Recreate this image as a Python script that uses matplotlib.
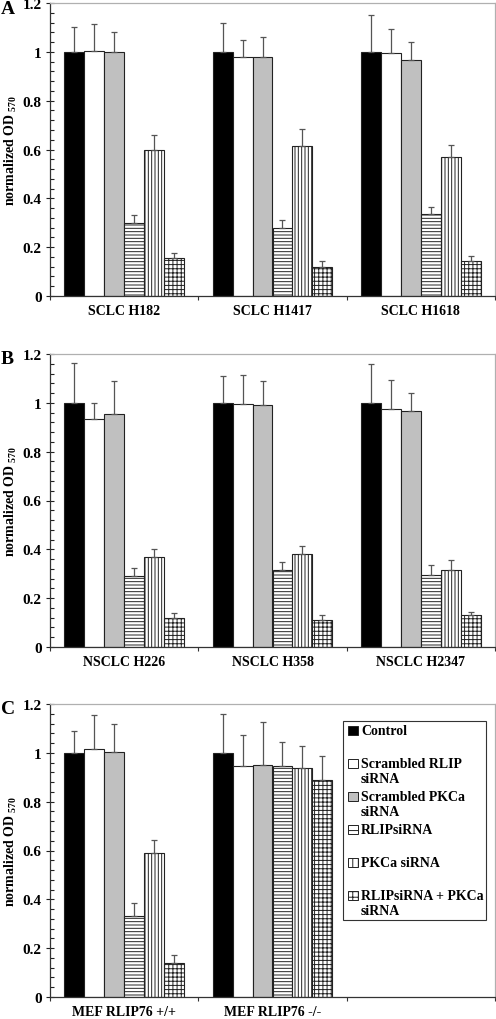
import numpy as np
import matplotlib
matplotlib.use("Agg")
import matplotlib.pyplot as plt
from matplotlib.patches import Rectangle
from matplotlib.ticker import MultipleLocator, FixedLocator

plt.rcParams['font.family'] = ['Liberation Serif', 'DejaVu Serif']
plt.rcParams['font.weight'] = 'bold'
plt.rcParams['mathtext.fontset'] = 'custom'
plt.rcParams['mathtext.rm'] = 'Liberation Serif'
plt.rcParams['mathtext.bf'] = 'Liberation Serif:bold'
plt.rcParams['hatch.linewidth'] = 0.7

series = ['Control', 'Scrambled RLIP\nsiRNA', 'Scrambled PKCa\nsiRNA',
          'RLIPsiRNA', 'PKCa siRNA', 'RLIPsiRNA + PKCa\nsiRNA']
fills = ['black', 'white', '#c0c0c0', 'white', 'white', 'white']
hatches = [None, None, None, '-----', '|||||', '++++']

# panel A
cats_a = ['SCLC H182', 'SCLC H1417', 'SCLC H1618']
vals_a = [[1.0, 1.005, 1.0, 0.30, 0.60, 0.155],
          [1.0, 0.98, 0.98, 0.28, 0.615, 0.12],
          [1.0, 0.995, 0.965, 0.335, 0.57, 0.145]]
tops_a = [[1.10, 1.115, 1.08, 0.33, 0.66, 0.178],
          [1.12, 1.05, 1.06, 0.31, 0.685, 0.145],
          [1.15, 1.095, 1.04, 0.365, 0.62, 0.165]]

# panel B
cats_b = ['NSCLC H226', 'NSCLC H358', 'NSCLC H2347']
vals_b = [[1.0, 0.935, 0.955, 0.29, 0.37, 0.12],
          [1.0, 0.995, 0.99, 0.315, 0.38, 0.11],
          [1.0, 0.975, 0.965, 0.295, 0.315, 0.13]]
tops_b = [[1.165, 1.0, 1.09, 0.325, 0.40, 0.14],
          [1.11, 1.115, 1.09, 0.35, 0.415, 0.13],
          [1.16, 1.095, 1.04, 0.335, 0.355, 0.145]]

# panel C (third slot empty, holds the legend)
cats_c = ['MEF RLIP76 +/+', 'MEF RLIP76 -/-', '']
vals_c = [[1.0, 1.015, 1.005, 0.33, 0.59, 0.14],
          [1.0, 0.945, 0.952, 0.948, 0.936, 0.887]]
tops_c = [[1.09, 1.155, 1.12, 0.385, 0.645, 0.17],
          [1.16, 1.071, 1.128, 1.044, 1.03, 0.989]]

fig = plt.figure(figsize=(4.96, 10.2), dpi=100)
W, H = 496, 1020
edge = '#222222'
width = 0.1347


def panel(top_px, cats, vals, tops, letter, legend=False):
    ax = fig.add_axes([50 / W, 1 - (top_px + 293) / H, 445 / W, 293 / H])
    x = np.arange(len(cats))
    vals = np.array(vals)
    tops = np.array(tops)
    n = vals.shape[0]
    for i in range(len(series)):
        xs = np.arange(n) + (i - 2.5) * width
        ax.bar(xs, vals[:, i], width, color=fills[i], edgecolor=edge,
               linewidth=0.8, hatch=hatches[i], zorder=2)
        err = tops[:, i] - vals[:, i]
        ax.errorbar(xs, vals[:, i], yerr=[np.zeros(n), err], fmt='none',
                    ecolor='#555555', elinewidth=0.9, capsize=2.5,
                    capthick=0.9, zorder=3)
    ax.set_xlim(-0.5, len(cats) - 0.5)
    ax.set_ylim(0, 1.2)
    ax.yaxis.set_minor_locator(MultipleLocator(0.04))
    ax.set_yticks([0, 0.2, 0.4, 0.6, 0.8, 1.0, 1.2])
    ax.set_yticklabels(['0', '0.2', '0.4', '0.6', '0.8', '1', '1.2'],
                       fontsize=11, fontweight='bold')
    ax.set_xticks(x)
    ax.set_xticklabels(cats, fontsize=10, fontweight='bold')
    ax.xaxis.set_minor_locator(FixedLocator(np.arange(len(cats) + 1) - 0.5))
    ax.tick_params(axis='x', which='major', length=0, pad=6)
    ax.tick_params(axis='x', which='minor', direction='out', length=3,
                   color='#333333', width=0.8)
    ax.tick_params(axis='y', which='major', direction='inout', length=6,
                   color='#222222', width=0.8, pad=3)
    ax.tick_params(axis='y', which='minor', direction='in', length=3,
                   color='#222222', width=0.8)
    for s in ['left', 'bottom']:
        ax.spines[s].set_color('#333333')
        ax.spines[s].set_linewidth(0.9)
    for s in ['top', 'right']:
        ax.spines[s].set_color('#b0b0b0')
        ax.spines[s].set_linewidth(0.9)
    ax.set_ylabel(r'normalized OD $_{570}$', fontsize=10, fontweight='bold')
    ax.yaxis.set_label_coords(-31 / 445, 0.5)
    fig.text(1 / W, 1 - (top_px + 5) / H, letter, fontsize=14,
             fontweight='bold', ha='left', va='center')

    if legend:
        # legend box drawn by hand in axes fraction
        x0, x1 = (343 - 50) / 445, (486 - 50) / 445
        y0, y1 = 1 - (921 - 705) / 293, 1 - (722 - 705) / 293
        ax.add_patch(Rectangle((x0, y0), x1 - x0, y1 - y0, transform=ax.transAxes,
                               facecolor='white', edgecolor='#333333',
                               linewidth=0.8, zorder=4))
        step = 33 / 293
        for i, lab in enumerate(series):
            yy = 1 - (732 - 705) / 293 - i * step
            ax.add_patch(Rectangle((x0 + 5 / 445, yy - 4 / 293), 10 / 445, 9 / 293,
                                   transform=ax.transAxes, facecolor=fills[i],
                                   edgecolor=edge, linewidth=0.7,
                                   hatch=hatches[i] and hatches[i][:3], zorder=5))
            ax.text(x0 + 18 / 445, yy + 7 / 293, lab, transform=ax.transAxes,
                    fontsize=10, fontweight='bold', va='top', ha='left',
                    linespacing=1.2, zorder=6)
    return ax


panel(4, cats_a, vals_a, tops_a, 'A')
panel(355, cats_b, vals_b, tops_b, 'B')
panel(705, cats_c, vals_c, tops_c, 'C', legend=True)

fig.savefig('out.png', dpi=100)
